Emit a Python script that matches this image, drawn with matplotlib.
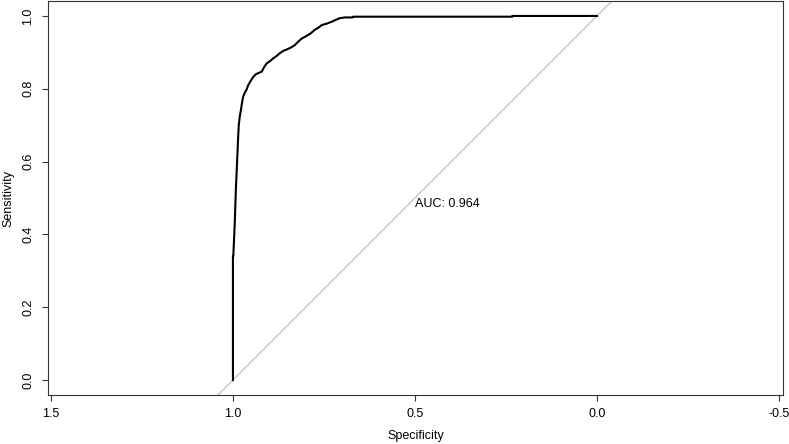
import numpy as np
import matplotlib
matplotlib.use('Agg')
import matplotlib.pyplot as plt

## data: ROC curve ############################################################
spec = [1.000, 1.000, 0.999, 0.995, 0.992, 0.988, 0.986, 0.984, 0.981, 0.978,
        0.975, 0.972, 0.967, 0.962, 0.958, 0.951, 0.944, 0.937, 0.930, 0.921,
        0.914, 0.907, 0.898, 0.889, 0.880, 0.871, 0.862, 0.852, 0.841, 0.830,
        0.820, 0.811, 0.800, 0.788, 0.775, 0.765, 0.756, 0.742, 0.729, 0.716,
        0.706, 0.692, 0.670, 0.670, 0.232, 0.232, 0.000]
sens = [0.000, 0.339, 0.339, 0.431, 0.522, 0.613, 0.660, 0.700, 0.725, 0.742,
        0.762, 0.778, 0.790, 0.799, 0.810, 0.822, 0.833, 0.840, 0.843, 0.847,
        0.860, 0.870, 0.876, 0.884, 0.890, 0.898, 0.904, 0.908, 0.913, 0.920,
        0.930, 0.938, 0.944, 0.951, 0.962, 0.968, 0.975, 0.979, 0.984, 0.990,
        0.994, 0.996, 0.996, 0.998, 0.998, 1.000, 1.000]
auc = 0.964
xTicks = [1.5, 1.0, 0.5, 0.0, -0.5]
yTicks = [0.0, 0.2, 0.4, 0.6, 0.8, 1.0]

## figure #####################################################################
plt.rcParams['font.family'] = ['Liberation Sans', 'DejaVu Sans']
W, H = 789, 444
fig = plt.figure(figsize=(W/100, H/100), dpi=100, facecolor='white')
ax = fig.add_axes([48/W, (H-394.6)/H, (783-48)/W, (394.6-1.4)/H])

# chance line and ROC curve
d = np.array([-0.1, 1.1])
ax.plot(1-d, d, color='#bebebe', lw=0.9)
ax.plot(spec, sens, color='black', lw=1.5)
ax.text(0.5, 0.5, 'AUC: %.3f' % auc, ha='left', va='top', fontsize=9)

# axes, R style
ax.set_xlim(1.508, -0.511)
ax.set_ylim(-0.04, 1.04)
ax.set_xticks(xTicks)
ax.set_xticklabels(['%.1f' % t for t in xTicks])
ax.set_yticks(yTicks)
ax.set_yticklabels(['%.1f' % t for t in yTicks], rotation=90, va='center')
ax.tick_params(axis='both', direction='out', length=4.5, width=0.8,
               labelsize=9, color='#333333', pad=5.5)
for s in ax.spines.values():
    s.set_color('#333333')
    s.set_linewidth(0.8)
ax.set_xlabel('Specificity', fontsize=9)
ax.set_ylabel('Sensitivity', fontsize=9)
ax.xaxis.set_label_coords(0.5, -(436-394.6)/(394.6-1.4), transform=ax.transAxes)
ax.yaxis.set_label_coords(-(48-8)/(783-48), 0.5, transform=ax.transAxes)
ax.xaxis.label.set_va('center')
ax.yaxis.label.set_va('center')

plt.savefig('out.png', dpi=100)
